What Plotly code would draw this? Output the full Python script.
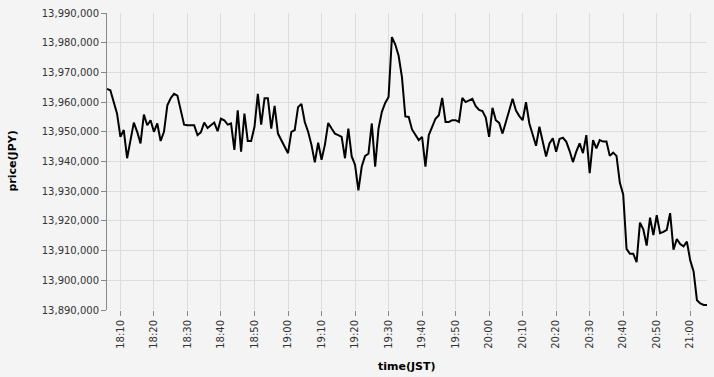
import pandas as pd
import plotly.graph_objects as go

start_time = "2021-01-01 18:06"
n_minutes = 180

prices = [
    13964400, 13964000, 13960000, 13956100, 13948300, 13950600, 13941100, 13946700, 13953100, 13950000,
    13946100, 13955800, 13952200, 13953900, 13950000, 13952800, 13946900, 13950000, 13958900, 13961300,
    13962800, 13962200, 13957200, 13952400, 13952200, 13952300, 13952200, 13948900, 13949800, 13953100,
    13951300, 13952200, 13953100, 13950200, 13954400, 13953900, 13952400, 13952800, 13943900, 13957200,
    13943300, 13956100, 13946900, 13946900, 13951700, 13962800, 13952400, 13961300, 13961300, 13951100,
    13958700, 13949400, 13947200, 13945000, 13942800, 13950000, 13950600, 13958300, 13959400, 13953300,
    13950000, 13945600, 13939700, 13946300, 13940600, 13945600, 13953000, 13951100, 13949400, 13948900,
    13948300, 13941100, 13951100, 13941700, 13938900, 13930300, 13938300, 13941900, 13942600, 13952800,
    13938300, 13951100, 13956700, 13959700, 13961700, 13981900, 13979400, 13975600, 13968300, 13955200,
    13955000, 13950800, 13948900, 13947200, 13948300, 13938300, 13948900, 13951900, 13954400, 13955600,
    13961400, 13953300, 13953300, 13953900, 13953900, 13953300, 13961400, 13960000, 13960600, 13961100,
    13958600, 13957400, 13957000, 13954800, 13948300, 13958100, 13953900, 13953000, 13949400, 13953300,
    13957300, 13961100, 13957200, 13955300, 13953900, 13960000, 13952800, 13949400, 13945300, 13951700,
    13947200, 13941700, 13946100, 13947800, 13943300, 13947600, 13948000, 13946700, 13943600, 13939800,
    13943300, 13946100, 13942800, 13948900, 13936100, 13947200, 13944400, 13947200, 13946700, 13946700,
    13941900, 13943000, 13941900, 13932800, 13928900, 13910600, 13908900, 13908900, 13906100, 13919400,
    13917200, 13911700, 13921100, 13915200, 13921900, 13915900, 13916300, 13917000, 13922600, 13910300,
    13913900, 13912200, 13911400, 13913000, 13906700, 13903000, 13893300, 13892200, 13891700, 13891700,
]

times = pd.date_range(start=start_time, periods=n_minutes, freq="1min")

y_min, y_max = 13890000, 13990000
x_title = "time(JST)"
y_title = "price(JPY)"

bg = "#f4f4f4"
grid = "#dddddd"
tick_font = dict(family="DejaVu Sans", size=10, color="#333333")

fig = go.Figure()
fig.add_trace(go.Scatter(
    x=times, y=prices, mode="lines",
    line=dict(color="#000000", width=2),
    hoverinfo="skip",
))

fig.update_layout(
    width=714, height=377,
    margin=dict(l=107, r=7, t=10, b=67),
    paper_bgcolor=bg, plot_bgcolor=bg,
    showlegend=False,
    font=dict(family="DejaVu Sans", size=10, color="#333333"),
    xaxis=dict(
        type="date",
        range=[times[0], times[-1]],
        tickformat="%H:%M",
        dtick=600000,
        tick0="2021-01-01 18:00",
        tickangle=-90,
        ticks="outside", ticklen=5, tickcolor="#888888", tickwidth=1,
        showgrid=True, gridcolor=grid, gridwidth=1,
        showline=False, zeroline=False,
        tickfont=tick_font,
    ),
    yaxis=dict(
        range=[y_min, y_max],
        dtick=10000,
        tickformat=",.0f",
        ticks="outside", ticklen=5, tickcolor="#888888", tickwidth=1,
        showgrid=True, gridcolor=grid, gridwidth=1,
        showline=True, linecolor="#888888", linewidth=1,
        zeroline=False,
        tickfont=tick_font,
    ),
    annotations=[
        dict(text=x_title, xref="paper", yref="paper", x=0.5, y=0,
             yshift=-56, showarrow=False, xanchor="center", yanchor="middle",
             font=dict(family="DejaVu Sans", size=11, color="#000000"),
             textangle=0),
        dict(text=y_title, xref="paper", yref="paper", x=0, y=0.5,
             xshift=-95, showarrow=False, xanchor="center", yanchor="middle",
             font=dict(family="DejaVu Sans", size=11, color="#000000"),
             textangle=-90),
    ],
)
fig.layout.annotations[0].text = "<b>" + x_title + "</b>"
fig.layout.annotations[1].text = "<b>" + y_title + "</b>"

fig.write_html("out.html", config={"displayModeBar": False})
